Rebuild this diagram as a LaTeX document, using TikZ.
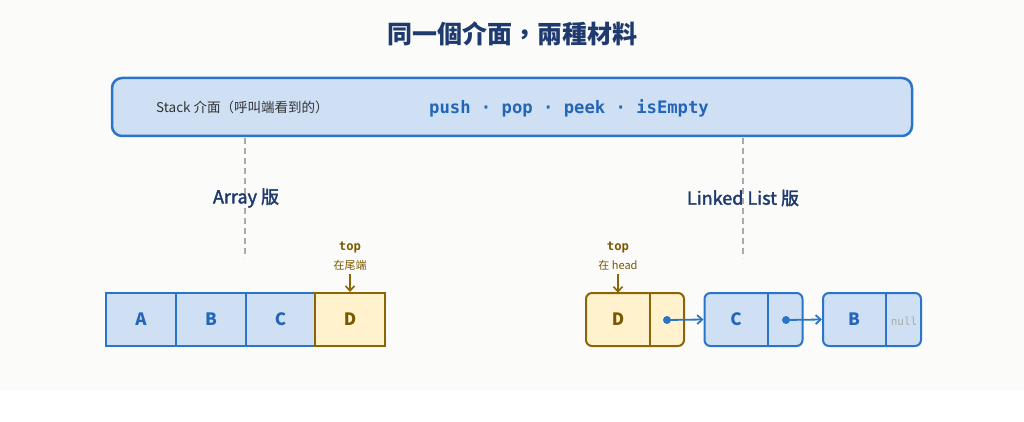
\documentclass[tikz,border=0pt]{standalone}
\usepackage{fontspec}
\setmainfont{Noto Sans CJK TC}
\setmonofont{DejaVu Sans Mono}
\newfontfamily\medfont[FakeBold=2]{Noto Sans CJK TC}
\usetikzlibrary{arrows.meta}
\definecolor{bgc}{HTML}{FBFBF9}
\definecolor{titlec}{HTML}{1E3A6E}
\definecolor{bfill}{HTML}{CFE0F5}
\definecolor{bline}{HTML}{2A74C9}
\definecolor{btext}{HTML}{2366B8}
\definecolor{yfill}{HTML}{FFF2CC}
\definecolor{brline}{HTML}{8A6508}
\definecolor{brtext}{HTML}{7A5800}
\definecolor{grayd}{HTML}{AAAAAA}
\definecolor{labc}{HTML}{333333}
\tikzset{
  fs/.style={font=\fontsize{#1}{#1}\selectfont},
  arrcell/.style={draw=bline, fill=bfill, line width=2pt, minimum width=70pt, minimum height=53pt, inner sep=0pt, text=btext, font=\fontsize{17}{17}\selectfont\bfseries},
  topcell/.style={arrcell, draw=brline, fill=yfill, text=brtext},
  llnode/.style={draw=bline, fill=bfill, line width=2pt, rounded corners=6pt, minimum width=98pt, minimum height=53pt, inner sep=0pt},
  llyel/.style={llnode, draw=brline, fill=yfill},
  datapart/.style={minimum width=64pt, minimum height=53pt, inner sep=0pt, text=btext, font=\fontsize{17}{17}\selectfont\bfseries},
  dotn/.style={circle, fill=bline, inner sep=0pt, minimum size=8pt},
  toplbl/.style={text=brtext, font=\ttfamily\bfseries\fontsize{12.2}{12.2}\selectfont, inner sep=0pt},
  topsub/.style={text=brtext, font=\fontsize{11}{11}\selectfont, inner sep=0pt},
  toparrow/.style={draw=brline, line width=1.6pt, -{Straight Barb[length=5pt,width=9pt]}},
  linkarrow/.style={draw=bline, line width=1.8pt, -{Straight Barb[length=5pt,width=9pt]}},
  dashln/.style={draw=grayd, line width=1.3pt, dash pattern=on 6pt off 4pt},
  verlbl/.style={text=titlec, font=\medfont\fontsize{18}{18}\selectfont, inner sep=0pt},
}
\begin{document}
\begin{tikzpicture}[x=1pt,y=-1pt]
\fill[bgc] (0,0) rectangle (1024,391);
\useasboundingbox (0,0) rectangle (1024,422);

% title
\node[text=titlec, font=\fontsize{25}{25}\selectfont\bfseries, inner sep=0pt] (title) at (512,34) {同一個介面，兩種材料};

% interface
\node[draw=bline, fill=bfill, line width=2.5pt, rounded corners=10pt, minimum width=800pt, minimum height=58pt, inner sep=0pt] (iface) at (512,107) {};
\node[anchor=west, text=labc, fs=13.5, inner sep=0pt] (stacklbl) at (156,107) {Stack 介面（呼叫端看到的）};
\node[text=btext, font=\ttfamily\bfseries\fontsize{17.2}{17.2}\selectfont, inner sep=0pt] (ops) at (569,108) {push · pop · peek · isEmpty};

% dashed separators
\coordinate (dA1) at (245,138); \coordinate (dA2) at (245,258);
\coordinate (dL1) at (743,138); \coordinate (dL2) at (743,258);
\draw[dashln] (dA1) -- (dA2);
\draw[dashln] (dL1) -- (dL2);
\node[verlbl] (arrlbl) at (246,198) {Array 版};
\node[verlbl] (lllbl) at (743,198) {Linked List 版};

% array
\node[arrcell] (ca) at (141,319.5) {A};
\node[arrcell] (cb) at (211,319.5) {B};
\node[arrcell] (cc) at (280.5,319.5) {C};
\node[topcell] (cd) at (350,319.5) {D};
\node[toplbl] (topA) at (350,247) {top};
\node[topsub] (topAs) at (350,265) {在尾端};
\coordinate (topAa) at (350,274);
\draw[toparrow] (topAa) -- (cd.north);

% linked list
\node[llyel] (ld) at (635,319.5) {};
\draw[brline, line width=1.5pt] (650,294) -- (650,345);
\node[datapart, text=brtext] (ldd) at (618,319.5) {D};
\node[llnode] (lc) at (753.5,319.5) {};
\draw[bline, line width=1.5pt] (768,294) -- (768,345);
\node[datapart] (lcd) at (736,319.5) {C};
\node[llnode] (lb) at (872,319.5) {};
\draw[bline, line width=1.5pt] (886,294) -- (886,345);
\node[datapart] (lbd) at (854,319.5) {B};
\node[text=grayd, font=\ttfamily\fontsize{11}{11}\selectfont, inner sep=0pt] (nul) at (904,321) {null};

\node[dotn] (dotD) at (667,320) {};
\node[dotn] (dotC) at (786,320) {};
\draw[linkarrow] (dotD.center) -- (lc.west);
\draw[linkarrow] (dotC.center) -- (lb.west);

\node[toplbl] (topL) at (618,247) {top};
\node[topsub] (topLs) at (618,265) {在 head};
\coordinate (topLa) at (618,274);
\draw[toparrow] (topLa) -- (ldd.north);
\end{tikzpicture}
\end{document}
